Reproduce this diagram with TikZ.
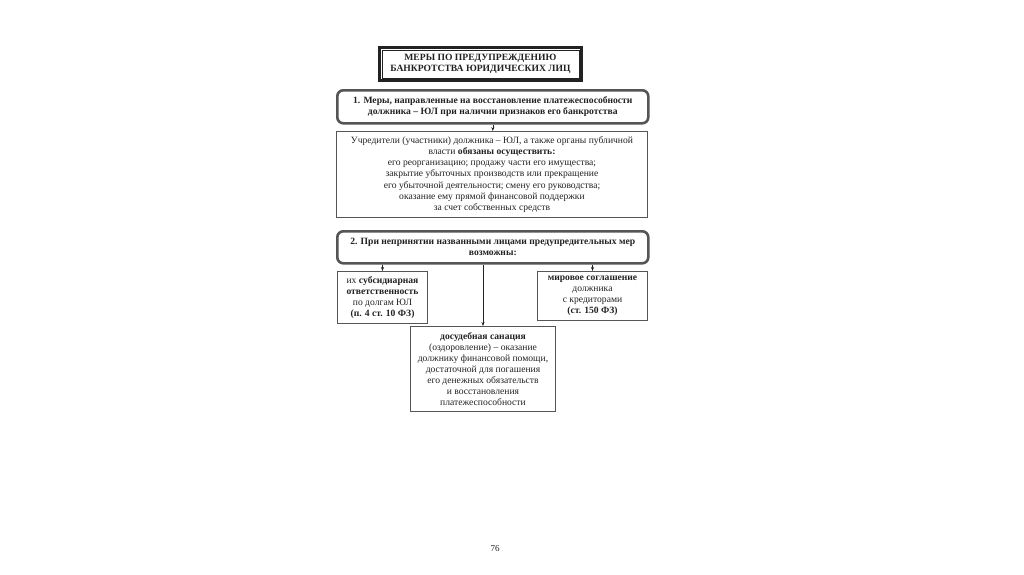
\documentclass[tikz,border=0pt]{standalone}
\usepackage{fontspec}
\setmainfont{Liberation Serif}
\usetikzlibrary{arrows.meta}
\definecolor{ink}{HTML}{222222}
\definecolor{frame}{HTML}{555555}
\begin{document}
\begin{tikzpicture}[x=1pt,y=-1pt,
  txt/.style={font=\fontsize{9.6}{11.1}\selectfont, text=ink, align=center, inner sep=0pt},
  rbox/.style={txt, draw=frame, line width=2.6pt, rounded corners=6pt, anchor=north west},
  pbox/.style={txt, draw=frame, line width=1pt, anchor=north west},
  arr/.style={draw=ink, line width=0.6pt, -{Stealth[length=4pt,width=3pt]}},
  ln/.style={draw=ink, line width=0.6pt}]
\useasboundingbox[fill=white] (0,0) rectangle (1024,574);
% title
\node[txt, draw=ink, line width=2.8pt, minimum width=202pt, minimum height=33pt, anchor=north west] (title) at (378,46)
  {\textbf{МЕРЫ ПО ПРЕДУПРЕЖДЕНИЮ}\\\textbf{БАНКРОТСТВА ЮРИДИЧЕСКИХ ЛИЦ}};
\draw[draw=ink, line width=0.6pt] ([shift={(4,4)}]title.north west) rectangle ([shift={(-4,-4)}]title.south east);
% box 1
\node[rbox, minimum width=311pt, minimum height=33pt] (b1) at (336,89)
  {\textbf{1. Меры, направленные на восстановление платежеспособности}\\\textbf{должника – ЮЛ при наличии признаков его банкротства}};
% box 2
\node[pbox, minimum width=311pt, minimum height=86pt] (b2) at (336,131)
  {Учредители (участники) должника – ЮЛ, а также органы публичной\\
   власти \textbf{обязаны осуществить:}\\
   его реорганизацию; продажу части его имущества;\\
   закрытие убыточных производств или прекращение\\
   его убыточной деятельности; смену его руководства;\\
   оказание ему прямой финансовой поддержки\\
   за счет собственных средств};
% box 3
\node[rbox, minimum width=311pt, minimum height=32pt] (b3) at (336,230)
  {\textbf{2. При непринятии названными лицами предупредительных мер}\\\textbf{возможны:}};
% left
\node[pbox, minimum width=90pt, minimum height=52pt] (bl) at (337,271)
  {их \textbf{субсидиарная}\\\textbf{ответственность}\\по долгам ЮЛ\\\textbf{(п. 4 ст. 10 ФЗ)}};
% right
\node[pbox, minimum width=110pt, minimum height=49pt, text depth=2pt] (br) at (537,271)
  {\textbf{мировое соглашение}\\должника\\с кредиторами\\\textbf{(ст. 150 ФЗ)}};
% bottom
\node[pbox, minimum width=145pt, minimum height=85pt] (bb) at (410,326)
  {\textbf{досудебная санация}\\(оздоровление) – оказание\\должнику финансовой помощи,\\достаточной для погашения\\его денежных обязательств\\и восстановления\\платежеспособности};
% connectors
\draw[arr] (b1.south) -- (b1.south |- b2.north);
\draw[arr] (b3.south -| bl.north) -- (bl.north);
\draw[arr] (b3.south -| br.north) -- (br.north);
\draw[arr] (b3.south -| bb.north) -- (bb.north);
% page number
\node[txt, font=\fontsize{9}{10}\selectfont] (pg) at (495,549) {76};
\end{tikzpicture}
\end{document}
